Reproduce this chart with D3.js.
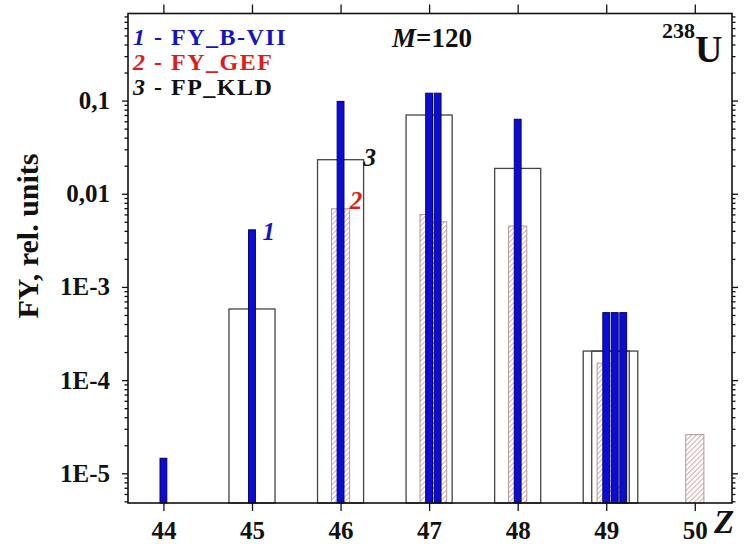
<!DOCTYPE html>
<html>
<head>
<meta charset="utf-8">
<title>FY M=120</title>
<style>
  body { margin: 0; background: #fff; }
  svg { display: block; font-family: "Liberation Serif", "Times New Roman", serif; font-weight: bold; }
  .tick text { font-family: "Liberation Serif", "Times New Roman", serif; font-size: 25px; font-weight: bold; fill: #111; }
  .tick line { stroke: #111; stroke-width: 1.3; }
</style>
<script src="https://d3js.org/d3.v7.min.js"></script>
</head>
<body>
<script>
// yields per Z (isomers of one Z follow each other)
var zBVII = [44, 45, 46, 47, 47, 48, 49, 49, 49];
var fyBVII = [1.45e-5, 4.1e-3, 0.098, 0.12, 0.12, 0.063, 5.3e-4, 5.3e-4, 5.3e-4];
var zGEF = [46, 47, 47, 48, 49, 49, 50];
var fyGEF = [6.9e-3, 6.0e-3, 5.0e-3, 4.5e-3, 1.52e-4, 7.1e-6, 2.6e-5];
var zKLD = [45, 46, 47, 48, 49, 49];
var fyKLD = [5.8e-4, 0.0232, 0.070, 0.0187, 2.05e-4, 2.05e-4];

var xTicks = [44, 45, 46, 47, 48, 49, 50];
var yTicks = [1e-5, 1e-4, 1e-3, 0.01, 0.1];
var yTickLabels = ["1E-5", "1E-4", "1E-3", "0,01", "0,1"];
var legendNums = ["1", "2", "3"];
var legendLabels = ["FY_B-VII", "FY_GEF", "FP_KLD"];
var legendColors = ["#1515c0", "#e01b1b", "#111"];
var labelZ = [45, 46, 46];   // where the curve numbers sit

var W = 746, H = 544;
var margin = {top: 13.5, right: 14, bottom: 41, left: 128};
var width = W - margin.left - margin.right;
var height = H - margin.top - margin.bottom;

var svg = d3.select("body").append("svg").attr("width", W).attr("height", H);
var chart = svg.append("g").attr("transform", "translate(" + margin.left + "," + margin.top + ")");

var x = d3.scaleLinear().domain([43.6, 50.42]).range([0, width]);
var y = d3.scaleLog().domain([4.8e-6, 0.86]).range([height, 0]);

var step = 0.096; // shift between isomers, in Z units

function withIsomers(zs, vals) {
  var seen = {};
  return zs.map(function(z, i) {
    var k = seen[z] || 0;
    seen[z] = k + 1;
    return {z: z, v: vals[i], k: k};
  });
}

function bars(cls, data, w) {
  return chart.selectAll("rect." + cls).data(data).enter().append("rect")
    .attr("class", cls)
    .attr("x", function(d) { return x(d.z + d.k * step - w / 2); })
    .attr("width", function(d) { return x(d.z + w / 2) - x(d.z - w / 2); })
    .attr("y", function(d) { return y(d.v); })
    .attr("height", function(d) { return height - y(d.v); });
}

// hatch
var defs = svg.append("defs");
defs.append("pattern")
  .attr("id", "hatch")
  .attr("patternUnits", "userSpaceOnUse")
  .attr("width", 5).attr("height", 5)
  .append("path")
  .attr("d", "M0,5 L5,0 M-1,1 L1,-1 M4,6 L6,4")
  .attr("stroke", "#b98686")
  .attr("stroke-width", 0.9);

var kld = withIsomers(zKLD, fyKLD);
var gef = withIsomers(zGEF, fyGEF);
var bvii = withIsomers(zBVII, fyBVII);

bars("kld", kld, 0.52)
  .attr("fill", "none")
  .attr("stroke", "#444")
  .attr("stroke-width", 1.3);

bars("gef", gef, 0.205)
  .attr("fill", "url(#hatch)")
  .attr("stroke", "#b49696")
  .attr("stroke-width", 1);

bars("bvii", bvii, 0.077)
  .attr("fill", "#0c0cd2")
  .attr("stroke", "#00006a")
  .attr("stroke-width", 1);

// axes
var minor = [];
for (var e = -6; e <= 0; e++) {
  for (var m = 2; m <= 9; m++) {
    var v = m * Math.pow(10, e);
    if (v >= y.domain()[0] && v <= y.domain()[1]) minor.push(v);
  }
}

chart.append("g")
  .attr("transform", "translate(0," + height + ")")
  .call(d3.axisBottom(x).tickValues(xTicks).tickFormat(d3.format("d")).tickSize(8).tickPadding(10));

chart.append("g")
  .call(d3.axisTop(x).tickValues(xTicks).tickFormat("").tickSize(9));

chart.append("g")
  .call(d3.axisLeft(y).tickValues(yTicks).tickFormat(function(d, i) { return yTickLabels[i]; }).tickSize(6).tickPadding(12));

chart.append("g")
  .call(d3.axisLeft(y).tickValues(minor).tickFormat("").tickSize(3.5));

chart.append("g")
  .attr("transform", "translate(" + width + ",0)")
  .call(d3.axisRight(y).tickValues(yTicks).tickFormat("").tickSize(6));

chart.append("g")
  .attr("transform", "translate(" + width + ",0)")
  .call(d3.axisRight(y).tickValues(minor).tickFormat("").tickSize(3.5));

chart.selectAll(".domain").remove();

chart.append("rect")
  .attr("width", width)
  .attr("height", height)
  .attr("fill", "none")
  .attr("stroke", "#111")
  .attr("stroke-width", 1.6);

// axis titles
svg.append("text")
  .attr("transform", "translate(38,236) rotate(-90)")
  .attr("text-anchor", "middle")
  .attr("font-size", 30)
  .attr("fill", "#111")
  .text("FY, rel. units");

svg.append("text")
  .attr("x", 714).attr("y", 533)
  .attr("font-size", 33)
  .attr("font-style", "italic")
  .attr("fill", "#111")
  .text("Z");

// legend
legendLabels.forEach(function(lab, i) {
  var t = svg.append("text")
    .attr("x", 133)
    .attr("y", 45 + i * 24.8)
    .attr("font-size", 24)
    .attr("letter-spacing", 1.5)
    .attr("fill", legendColors[i]);
  t.append("tspan").attr("font-style", "italic").text(legendNums[i]);
  t.append("tspan").text(" - " + lab);
});

var mt = svg.append("text")
  .attr("x", 392).attr("y", 47)
  .attr("font-size", 27)
  .attr("fill", "#111");
mt.append("tspan").attr("font-style", "italic").text("M");
mt.append("tspan").text("=120");

var ut = svg.append("text").attr("fill", "#111");
ut.append("tspan").attr("x", 662).attr("y", 38).attr("font-size", 22).text("238");
ut.append("tspan").attr("y", 62).attr("font-size", 38).text("U");

// curve numbers next to the bars
var labelSeries = [bvii, gef, kld];
var labelWidth = [0.077, 0.205, 0.52];
var labelDy = [10, 0, 6];
labelSeries.forEach(function(s, i) {
  var d = s.filter(function(p) { return p.z === labelZ[i] && p.k === 0; })[0];
  svg.append("text")
    .attr("x", margin.left + x(d.z + labelWidth[i] / 2) + (i === 0 ? 7 : 0))
    .attr("y", margin.top + y(d.v) + labelDy[i])
    .attr("font-size", 25)
    .attr("font-style", "italic")
    .attr("fill", legendColors[i])
    .text(legendNums[i]);
});
</script>
</body>
</html>
